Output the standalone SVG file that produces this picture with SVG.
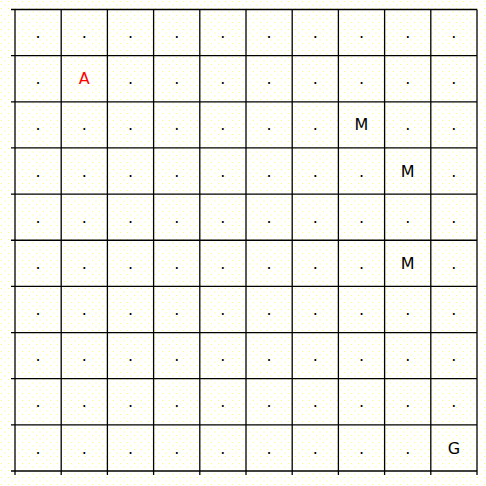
<svg xmlns="http://www.w3.org/2000/svg" width="486" height="486" viewBox="0 0 486 486">
<defs>
<pattern id="dots" width="7" height="7" patternUnits="userSpaceOnUse">
<rect x="1" y="1" width="1" height="1" fill="#ffff66"/>
<rect x="4.5" y="4.5" width="1" height="1" fill="#ffff66"/>
</pattern>
<style>
.g{stroke:#000;stroke-width:1.3;fill:none}
text{font-family:"DejaVu Sans",sans-serif;font-size:16px;text-anchor:middle;fill:#000}
.red{fill:#ff0000}
</style>
</defs>
<rect width="486" height="486" fill="#fff"/>
<rect width="486" height="486" fill="url(#dots)"/>
<g id="grid" class="g">
<path d="M11 9.5H477M11 55.65H477M11 101.8H477M11 147.95H477M11 194.1H477M11 240.25H477M11 286.4H477M11 332.55H477M11 378.7H477M11 424.85H477M11 471H477"/>
<path d="M15 9.5V475M61.2 9.5V475M107.4 9.5V475M153.6 9.5V475M199.8 9.5V475M246 9.5V475M292.2 9.5V475M338.4 9.5V475M384.6 9.5V475M430.8 9.5V475M477 9.5V475"/>
</g>
<g id="empty-cells" transform="translate(0,0.3)">
<text x="38.1" y="37.9">.</text><text x="84.3" y="37.9">.</text><text x="130.5" y="37.9">.</text><text x="176.7" y="37.9">.</text><text x="222.9" y="37.9">.</text><text x="269.1" y="37.9">.</text><text x="315.3" y="37.9">.</text><text x="361.5" y="37.9">.</text><text x="407.7" y="37.9">.</text><text x="453.9" y="37.9">.</text>
<text x="38.1" y="84.05">.</text><text x="130.5" y="84.05">.</text><text x="176.7" y="84.05">.</text><text x="222.9" y="84.05">.</text><text x="269.1" y="84.05">.</text><text x="315.3" y="84.05">.</text><text x="361.5" y="84.05">.</text><text x="407.7" y="84.05">.</text><text x="453.9" y="84.05">.</text>
<text x="38.1" y="130.2">.</text><text x="84.3" y="130.2">.</text><text x="130.5" y="130.2">.</text><text x="176.7" y="130.2">.</text><text x="222.9" y="130.2">.</text><text x="269.1" y="130.2">.</text><text x="315.3" y="130.2">.</text><text x="407.7" y="130.2">.</text><text x="453.9" y="130.2">.</text>
<text x="38.1" y="176.35">.</text><text x="84.3" y="176.35">.</text><text x="130.5" y="176.35">.</text><text x="176.7" y="176.35">.</text><text x="222.9" y="176.35">.</text><text x="269.1" y="176.35">.</text><text x="315.3" y="176.35">.</text><text x="361.5" y="176.35">.</text><text x="453.9" y="176.35">.</text>
<text x="38.1" y="222.5">.</text><text x="84.3" y="222.5">.</text><text x="130.5" y="222.5">.</text><text x="176.7" y="222.5">.</text><text x="222.9" y="222.5">.</text><text x="269.1" y="222.5">.</text><text x="315.3" y="222.5">.</text><text x="361.5" y="222.5">.</text><text x="407.7" y="222.5">.</text><text x="453.9" y="222.5">.</text>
<text x="38.1" y="268.65">.</text><text x="84.3" y="268.65">.</text><text x="130.5" y="268.65">.</text><text x="176.7" y="268.65">.</text><text x="222.9" y="268.65">.</text><text x="269.1" y="268.65">.</text><text x="315.3" y="268.65">.</text><text x="361.5" y="268.65">.</text><text x="453.9" y="268.65">.</text>
<text x="38.1" y="314.8">.</text><text x="84.3" y="314.8">.</text><text x="130.5" y="314.8">.</text><text x="176.7" y="314.8">.</text><text x="222.9" y="314.8">.</text><text x="269.1" y="314.8">.</text><text x="315.3" y="314.8">.</text><text x="361.5" y="314.8">.</text><text x="407.7" y="314.8">.</text><text x="453.9" y="314.8">.</text>
<text x="38.1" y="360.95">.</text><text x="84.3" y="360.95">.</text><text x="130.5" y="360.95">.</text><text x="176.7" y="360.95">.</text><text x="222.9" y="360.95">.</text><text x="269.1" y="360.95">.</text><text x="315.3" y="360.95">.</text><text x="361.5" y="360.95">.</text><text x="407.7" y="360.95">.</text><text x="453.9" y="360.95">.</text>
<text x="38.1" y="407.1">.</text><text x="84.3" y="407.1">.</text><text x="130.5" y="407.1">.</text><text x="176.7" y="407.1">.</text><text x="222.9" y="407.1">.</text><text x="269.1" y="407.1">.</text><text x="315.3" y="407.1">.</text><text x="361.5" y="407.1">.</text><text x="407.7" y="407.1">.</text><text x="453.9" y="407.1">.</text>
<text x="38.1" y="453.25">.</text><text x="84.3" y="453.25">.</text><text x="130.5" y="453.25">.</text><text x="176.7" y="453.25">.</text><text x="222.9" y="453.25">.</text><text x="269.1" y="453.25">.</text><text x="315.3" y="453.25">.</text><text x="361.5" y="453.25">.</text><text x="407.7" y="453.25">.</text>
</g>
<g id="agent"><text class="red" x="84.3" y="84.3">A</text></g>
<g id="m1"><text x="361.5" y="130.4">M</text></g>
<g id="m2"><text x="407.7" y="176.6">M</text></g>
<g id="m3"><text x="407.7" y="268.9">M</text></g>
<g id="goal"><text x="453.9" y="453.5">G</text></g>
</svg>
